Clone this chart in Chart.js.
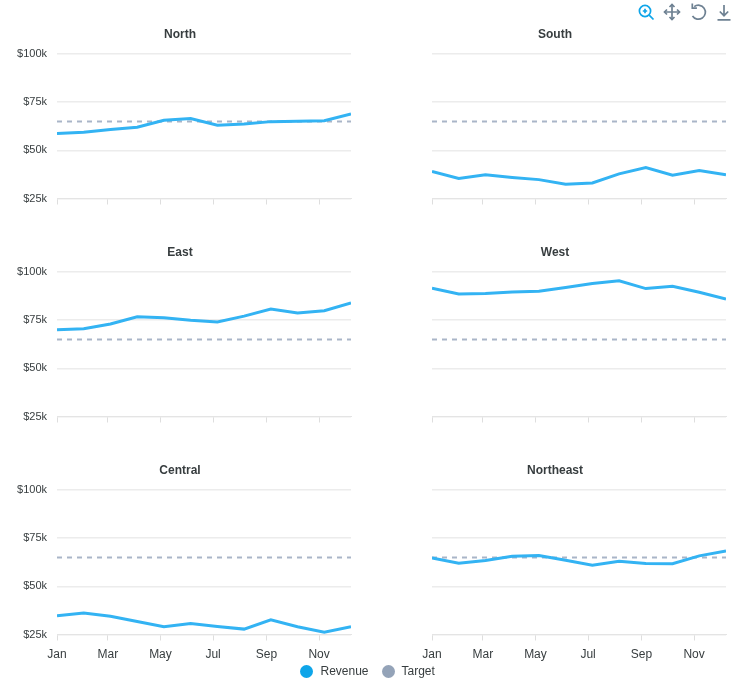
<!DOCTYPE html>
<html lang="en">
<head>
  <meta charset="UTF-8" />
  <title>Revenue by region</title>
  <script src="https://cdn.jsdelivr.net/npm/chart.js"></script>
  <style>
    html, body { margin: 0; padding: 0; background: #fff; overflow: hidden; }
    body { width: 736px; height: 678px; position: relative; font-family: "Liberation Sans", Arial, sans-serif; }
    canvas { position: absolute; }
    .legend { position: absolute; top: 664px; font-size: 12px; line-height: 14px; color: #373d3f; }
    .dot { position: absolute; top: 664.5px; width: 13px; height: 13px; border-radius: 50%; }
    svg { position: absolute; top: 2px; width: 20px; height: 20px; fill: none; stroke-width: 1.7; }
  </style>
</head>
<body>

  <canvas id="north" width="360" height="218" style="left:0;top:0"></canvas>
  <canvas id="south" width="360" height="218" style="left:375px;top:0"></canvas>
  <canvas id="east" width="360" height="218" style="left:0;top:218px"></canvas>
  <canvas id="west" width="360" height="218" style="left:375px;top:218px"></canvas>
  <canvas id="central" width="360" height="236" style="left:0;top:436px"></canvas>
  <canvas id="northeast" width="360" height="236" style="left:375px;top:436px"></canvas>

  <span class="dot" style="left:300px;background:#0ea5e9"></span>
  <span class="legend" style="left:320.5px">Revenue</span>
  <span class="dot" style="left:382px;background:#94a3b8"></span>
  <span class="legend" style="left:401.5px">Target</span>

  <!-- toolbar -->
  <svg style="left:636px" viewBox="0 0 20 20" stroke="#0ea5e9">
    <circle cx="9" cy="9" r="5.6"/><path d="M13.2 13.2L17.5 17.5M6.8 9h4.4M9 6.8v4.4"/>
  </svg>
  <svg style="left:662px" viewBox="0 0 20 20" stroke="#6e8192" stroke-width="2">
    <path d="M10 2.5v15M2.5 10h15"/>
    <path d="M7.5 5L10 2.5 12.5 5M7.5 15L10 17.5 12.5 15M5 7.5L2.5 10 5 12.5M15 7.5L17.5 10 15 12.5"/>
  </svg>
  <svg style="left:688px" viewBox="0 0 20 20" stroke="#6e8192">
    <path d="M6.2 4.6A7 7 0 1 1 4.5 14"/><path d="M4.3 1.5v4.6h4.6"/>
  </svg>
  <svg style="left:714px" viewBox="0 0 20 20" stroke="#6e8192">
    <path d="M10 3v10.5M5.8 9.5l4.2 4.2 4.2-4.2M3.5 17.8h13"/>
  </svg>

<script>
  // days since Jan 1, one point every 31 days
  const dayOffsets = [0, 31, 62, 93, 124, 155, 186, 217, 248, 279, 310, 341];
  const monthTicks = [0, 59, 120, 181, 243, 304];
  const monthLabels = ['Jan', 'Mar', 'May', 'Jul', 'Sep', 'Nov'];
  const yTicks = [25, 50, 75, 100];

  const target = [65, 65, 65, 65, 65, 65, 65, 65, 65, 65, 65, 65];
  const north = [58.7, 59.4, 60.8, 62, 65.6, 66.5, 63, 63.7, 64.9, 65.1, 65.4, 68.9];
  const south = [39, 35.4, 37.3, 35.9, 34.8, 32.4, 33.1, 37.8, 41.1, 37.1, 39.5, 37.3];
  const east = [70, 70.6, 73, 76.8, 76.2, 74.9, 74.1, 77.1, 80.8, 78.7, 79.9, 83.9];
  const west = [91.6, 88.6, 88.8, 89.6, 90, 91.9, 94, 95.4, 91.4, 92.6, 89.5, 86];
  const central = [34.7, 36.2, 34.5, 31.7, 29, 30.7, 29.1, 27.8, 32.6, 29, 26.2, 29];
  const northeast = [64.7, 62, 63.4, 65.6, 66, 63.5, 61, 63, 61.9, 61.7, 65.8, 68.4];

  const FONT = '"Liberation Sans", Arial, sans-serif';
  const TEXT = '#373d3f';
  const GRID = '#ececec';

  function points(values) {
    return values.map((v, i) => ({ x: dayOffsets[i], y: v }));
  }

  function criarPainel(id, title, values, showY, showX) {
    const canvas = document.getElementById(id);
    return new Chart(canvas, {
      type: 'line',
      data: {
        datasets: [
          { label: 'Revenue', data: points(values), borderColor: '#33b3f3', borderWidth: 3, pointRadius: 0, tension: 0 },
          { label: 'Target', data: points(target), borderColor: '#a9b5c8', borderWidth: 2, borderDash: [5, 5], pointRadius: 0, tension: 0 }
        ]
      },
      options: {
        responsive: false,
        animation: false,
        plugins: {
          legend: { display: false },
          tooltip: { enabled: false },
          title: {
            display: true,
            text: title,
            color: TEXT,
            font: { family: FONT, size: 12, weight: 'bold', lineHeight: 1.2 },
            padding: { top: 27, bottom: 12.6 }
          }
        },
        scales: {
          x: {
            type: 'linear',
            min: dayOffsets[0],
            max: dayOffsets[dayOffsets.length - 1],
            afterBuildTicks: axis => { axis.ticks = monthTicks.map(value => ({ value })); },
            afterFit: axis => { axis.height = canvas.height - 198.5; },
            border: { color: '#e4e4e4', width: 1 },
            grid: { drawOnChartArea: false, color: '#dedede', tickLength: 6 },
            ticks: {
              display: showX,
              autoSkip: false,
              maxRotation: 0,
              padding: 7,
              color: TEXT,
              font: { family: FONT, size: 12 },
              callback: v => monthLabels[monthTicks.indexOf(v)]
            }
          },
          y: {
            min: yTicks[0],
            max: yTicks[yTicks.length - 1],
            afterBuildTicks: axis => { axis.ticks = yTicks.map(value => ({ value })); },
            afterFit: axis => { axis.width = 57; },
            border: { display: false },
            grid: { color: GRID, drawTicks: false, lineWidth: 1.5 },
            ticks: {
              display: showY,
              padding: 10,
              color: TEXT,
              font: { family: FONT, size: 11 },
              callback: v => `$${v}k`
            }
          },
          // empty right axis, keeps the plot short of the canvas edge so the title stays centred on the canvas
          spacer: {
            position: 'right',
            afterFit: axis => { axis.width = 9; },
            border: { display: false },
            grid: { display: false },
            ticks: { display: false }
          }
        }
      }
    });
  }

  criarPainel('north', 'North', north, true, false);
  criarPainel('south', 'South', south, false, false);
  criarPainel('east', 'East', east, true, false);
  criarPainel('west', 'West', west, false, false);
  criarPainel('central', 'Central', central, true, true);
  criarPainel('northeast', 'Northeast', northeast, false, true);
</script>

</body>
</html>
